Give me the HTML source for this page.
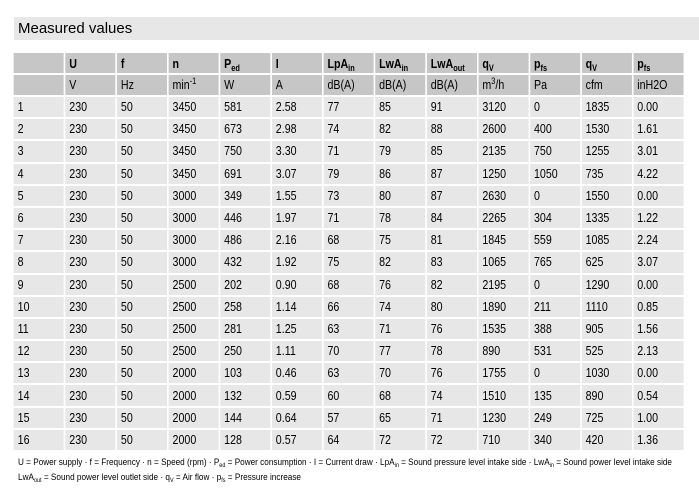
<!DOCTYPE html>
<html><head><meta charset="utf-8">
<style>
html,body{margin:0;padding:0;background:#fff;}
body{width:699px;height:500px;position:relative;overflow:hidden;font-family:"Liberation Sans",Arial,sans-serif;color:#000;}
.tbar{position:absolute;left:14px;top:17px;width:685px;height:23px;background:#e7e7e7;}
.title{position:absolute;left:18px;top:17px;height:23px;line-height:23px;font-size:15px;color:#000;white-space:nowrap;}
table{position:absolute;left:12px;top:51px;width:820.73px;table-layout:fixed;border-collapse:separate;border-spacing:2.439px 2px;transform-origin:0 0;transform:scaleX(0.82);}
td{padding:0 0 0 4.88px;font-size:13px;line-height:14px;vertical-align:middle;white-space:nowrap;overflow:hidden;background:#e7e7e7;color:#000;}
tr.h td{background:#c6c6c6;font-weight:bold;padding-top:1px;}
tr.u td{background:#c6c6c6;font-weight:normal;}
tr.h{height:20px;} tr.u{height:20px;} tr.d{height:20.2px;}
.s{font-size:9px;vertical-align:-3px;line-height:0;}
.sp{font-size:9px;vertical-align:5px;line-height:0;}
.fn{position:absolute;left:18px;top:455px;font-size:9px;line-height:14.5px;white-space:nowrap;color:#000;}
.fn div{transform-origin:0 0;transform:scaleX(0.92);display:block;width:max-content;}
.fs{font-size:6px;vertical-align:-2px;line-height:0;}
</style></head><body>
<div class="tbar"></div>
<div class="title">Measured values</div>
<table>
<colgroup><col><col><col><col><col><col><col><col><col><col><col><col><col></colgroup>
<tr class="h"><td></td><td>U</td><td>f</td><td>n</td><td>P<span class="s">ed</span></td><td>I</td><td>LpA<span class="s">in</span></td><td>LwA<span class="s">in</span></td><td>LwA<span class="s">out</span></td><td>q<span class="s">V</span></td><td>p<span class="s">fs</span></td><td>q<span class="s">V</span></td><td>p<span class="s">fs</span></td></tr>
<tr class="u"><td></td><td>V</td><td>Hz</td><td>min<span class="sp">-1</span></td><td>W</td><td>A</td><td>dB(A)</td><td>dB(A)</td><td>dB(A)</td><td>m<span class="sp">3</span>/h</td><td>Pa</td><td>cfm</td><td>inH2O</td></tr>
<tr class="d"><td>1</td><td>230</td><td>50</td><td>3450</td><td>581</td><td>2.58</td><td>77</td><td>85</td><td>91</td><td>3120</td><td>0</td><td>1835</td><td>0.00</td></tr>
<tr class="d"><td>2</td><td>230</td><td>50</td><td>3450</td><td>673</td><td>2.98</td><td>74</td><td>82</td><td>88</td><td>2600</td><td>400</td><td>1530</td><td>1.61</td></tr>
<tr class="d"><td>3</td><td>230</td><td>50</td><td>3450</td><td>750</td><td>3.30</td><td>71</td><td>79</td><td>85</td><td>2135</td><td>750</td><td>1255</td><td>3.01</td></tr>
<tr class="d"><td>4</td><td>230</td><td>50</td><td>3450</td><td>691</td><td>3.07</td><td>79</td><td>86</td><td>87</td><td>1250</td><td>1050</td><td>735</td><td>4.22</td></tr>
<tr class="d"><td>5</td><td>230</td><td>50</td><td>3000</td><td>349</td><td>1.55</td><td>73</td><td>80</td><td>87</td><td>2630</td><td>0</td><td>1550</td><td>0.00</td></tr>
<tr class="d"><td>6</td><td>230</td><td>50</td><td>3000</td><td>446</td><td>1.97</td><td>71</td><td>78</td><td>84</td><td>2265</td><td>304</td><td>1335</td><td>1.22</td></tr>
<tr class="d"><td>7</td><td>230</td><td>50</td><td>3000</td><td>486</td><td>2.16</td><td>68</td><td>75</td><td>81</td><td>1845</td><td>559</td><td>1085</td><td>2.24</td></tr>
<tr class="d"><td>8</td><td>230</td><td>50</td><td>3000</td><td>432</td><td>1.92</td><td>75</td><td>82</td><td>83</td><td>1065</td><td>765</td><td>625</td><td>3.07</td></tr>
<tr class="d"><td>9</td><td>230</td><td>50</td><td>2500</td><td>202</td><td>0.90</td><td>68</td><td>76</td><td>82</td><td>2195</td><td>0</td><td>1290</td><td>0.00</td></tr>
<tr class="d"><td>10</td><td>230</td><td>50</td><td>2500</td><td>258</td><td>1.14</td><td>66</td><td>74</td><td>80</td><td>1890</td><td>211</td><td>1110</td><td>0.85</td></tr>
<tr class="d"><td>11</td><td>230</td><td>50</td><td>2500</td><td>281</td><td>1.25</td><td>63</td><td>71</td><td>76</td><td>1535</td><td>388</td><td>905</td><td>1.56</td></tr>
<tr class="d"><td>12</td><td>230</td><td>50</td><td>2500</td><td>250</td><td>1.11</td><td>70</td><td>77</td><td>78</td><td>890</td><td>531</td><td>525</td><td>2.13</td></tr>
<tr class="d"><td>13</td><td>230</td><td>50</td><td>2000</td><td>103</td><td>0.46</td><td>63</td><td>70</td><td>76</td><td>1755</td><td>0</td><td>1030</td><td>0.00</td></tr>
<tr class="d"><td>14</td><td>230</td><td>50</td><td>2000</td><td>132</td><td>0.59</td><td>60</td><td>68</td><td>74</td><td>1510</td><td>135</td><td>890</td><td>0.54</td></tr>
<tr class="d"><td>15</td><td>230</td><td>50</td><td>2000</td><td>144</td><td>0.64</td><td>57</td><td>65</td><td>71</td><td>1230</td><td>249</td><td>725</td><td>1.00</td></tr>
<tr class="d"><td>16</td><td>230</td><td>50</td><td>2000</td><td>128</td><td>0.57</td><td>64</td><td>72</td><td>72</td><td>710</td><td>340</td><td>420</td><td>1.36</td></tr>
</table>
<div class="fn">
<div id="l1">U = Power supply · f = Frequency · n = Speed (rpm) · P<span class="fs">ed</span> = Power consumption · I = Current draw · LpA<span class="fs">in</span> = Sound pressure level intake side · LwA<span class="fs">in</span> = Sound power level intake side</div>
<div id="l2">LwA<span class="fs">out</span> = Sound power level outlet side · q<span class="fs">V</span> = Air flow · p<span class="fs">fs</span> = Pressure increase</div>
</div>
<script>
(function(){
  function fit(id,target){
    var el=document.getElementById(id);
    if(!el)return;
    el.style.transform='none';
    var w=el.getBoundingClientRect().width;
    if(w>0){el.style.transform='scaleX('+(target/w)+')';}
  }
  fit('l1',654);
  fit('l2',283);
})();
</script>
</body></html>
